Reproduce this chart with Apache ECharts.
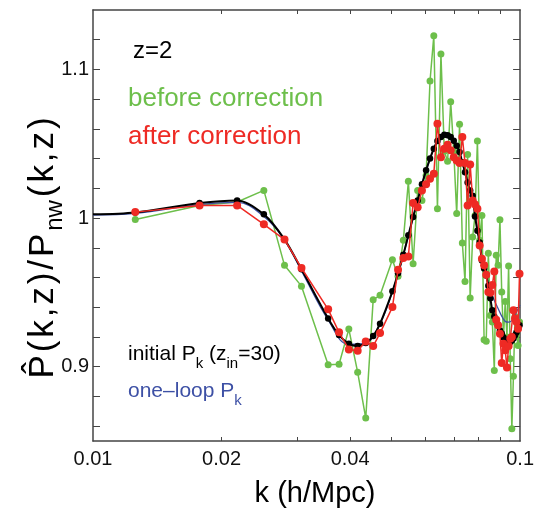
<!DOCTYPE html>
<html>
<head>
<meta charset="utf-8">
<script src="https://cdn.jsdelivr.net/npm/echarts@6/dist/echarts.min.js"></script>
<style>
  html, body { margin: 0; padding: 0; background: #fff; }
  #chart { width: 537px; height: 510px; }
</style>
</head>
<body>
<div id="chart"></div>
<script>
// k bins (h/Mpc) shared by the measured spectra
var kBins = [
  0.01256, 0.01776, 0.02175, 0.02512, 0.02808, 0.03077, 0.03553, 0.03768, 0.03972,
  0.04166, 0.04351, 0.04529, 0.04700,
  0.05024, 0.05179, 0.05329, 0.05475, 0.05617, 0.05756, 0.05891, 0.06024, 0.06153,
  0.06280, 0.06404, 0.06526, 0.06646, 0.06764, 0.06879, 0.06993, 0.07105, 0.07215,
  0.07324, 0.07431, 0.07536, 0.07640, 0.07743, 0.07844, 0.07944, 0.08042, 0.08140,
  0.08236, 0.08331, 0.08426, 0.08518, 0.08610, 0.08702, 0.08792, 0.08881, 0.08970,
  0.09057, 0.09144, 0.09230, 0.09315, 0.09399, 0.09483, 0.09565, 0.09647, 0.09729,
  0.09810, 0.09890, 0.09969
];

// before correction (green)
var beforeCorr = [
  0.9991, 1.0085, 1.0108, 1.0186, 0.9682, 0.9542, 0.9013, 0.9016, 0.9253,
  0.8962, 0.8654, 0.9451, 0.9480,
  0.9720, 0.9608, 0.9850, 1.0247, 0.9693, 1.0185, 1.0119, 1.0287, 1.0922,
  1.1227, 1.0062, 1.1104, 1.0450, 1.0382, 1.0782, 1.0450, 1.0030, 1.0631,
  0.9832, 0.9574, 1.0427, 0.9462, 0.9872, 1.0018, 1.0518, 0.9850, 1.0018,
  0.9182, 0.9172, 0.9764, 0.9345, 0.9300, 0.8975, 0.9749, 0.9682, 0.9989,
  0.9502, 0.9199, 0.9439, 0.9200, 0.9677, 0.9054, 0.8583, 0.8935, 0.9338,
  0.9223, 0.9143, 0.9300
];

// after correction (red)
var afterCorr = [
  1.0040, 1.0085, 1.0085, 0.9958, 0.9855, 0.9664, 0.9386, 0.9231, 0.9116,
  0.9108, 0.9170, 0.9139, 0.9226,
  0.9401, 0.9653, 0.9731, 0.9742, 1.0101, 1.0072, 1.0186, 1.0227, 1.0265,
  1.0299, 1.0635, 1.0410, 1.0467, 1.0494, 1.0456, 1.0409, 1.0388, 1.0370,
  1.0545, 1.0370, 1.0085, 1.0361, 1.0119, 1.0092, 1.0063, 0.9816, 0.9727,
  0.9682, 0.9619, 0.9502, 0.9498, 0.9550, 0.9641, 0.9316, 0.9278, 0.9222,
  0.9024, 0.9155, 0.9110, 0.8995, 0.9140, 0.9188, 0.9199, 0.9379, 0.9325,
  0.9300, 0.9256, 0.9626
];

// initial P_k (z_in=30), black curve with dots; first entry is k=0.01 edge
var initialK = [0.01].concat(kBins);
var initialPk = [
  1.0025,
  1.0038, 1.0101, 1.0119, 1.0025, 0.9857, 0.9655, 0.9325, 0.9213, 0.9155,
  0.9139, 0.9159, 0.9206, 0.9289,
  0.9507, 0.9628, 0.9754, 0.9884, 1.0007, 1.0119, 1.0227, 1.0321, 1.0400,
  1.0467, 1.0518, 1.0545, 1.0560, 1.0557, 1.0546, 1.0520, 1.0486, 1.0444,
  1.0375, 1.0308, 1.0240, 1.0186, 1.0150, 1.0010, 0.9915, 0.9836, 0.9715,
  0.9661, 0.9614, 0.9545, 0.9460, 0.9379, 0.9338, 0.9311, 0.9278, 0.9244,
  0.9224, 0.9197, 0.9177, 0.9167, 0.9164, 0.9166, 0.9177, 0.9190, 0.9211,
  0.9231, 0.9258, 0.9278
];

// one-loop P_k (blue line)
var oneLoopK = [
  0.01, 0.01256, 0.01776, 0.02175, 0.02512, 0.02808, 0.03077, 0.03553, 0.03972,
  0.04351, 0.04700, 0.05024, 0.05329, 0.05617, 0.05891, 0.06153, 0.06404, 0.06646,
  0.06879, 0.07105, 0.07324, 0.07536, 0.07743, 0.07944, 0.08140, 0.08331, 0.08518,
  0.08702, 0.08881, 0.09057, 0.09230, 0.09399, 0.09565, 0.09729, 0.09890, 0.1
];
var oneLoopPk = [
  1.0020, 1.0032, 1.0090, 1.0105, 1.0010, 0.9850, 0.9645, 0.9315, 0.9150,
  0.9160, 0.9290, 0.9505, 0.9752, 1.0005, 1.0225, 1.0398, 1.0515, 1.0556,
  1.0545, 1.0485, 1.0373, 1.0240, 1.0120, 0.9935, 0.9740, 0.9615, 0.9513,
  0.9446, 0.9392, 0.9340, 0.9305, 0.9300, 0.9310, 0.9345, 0.9390, 0.9415
];

// axis ticks and labels
var xTickValues = [0.02, 0.03, 0.04, 0.05, 0.06, 0.07, 0.08, 0.09];
var xLabelValues = [0.01, 0.02, 0.04, 0.1];
var yTickValues = [0.86, 0.88, 0.9, 0.92, 0.94, 0.96, 0.98, 1.0, 1.02, 1.04, 1.06, 1.08, 1.1, 1.12];
var yLabelValues = [0.9, 1.0, 1.1];

function pairs(xs, ys) {
  return xs.map(function(x, i) { return [x, ys[i]]; });
}

var font = 'Liberation Sans, Arial, sans-serif';
var green = '#6dbf4b';
var red = '#ee2a24';
var blue = '#3d50a5';
var frame = '#444';
var hair = '\u200a';

function fmt(v) { return String(+(+v).toPrecision(3)); }
// spread letters slightly, the original typesetting is looser than Liberation Sans
function spaced(s) { return s.split('').join(hair); }

function xAxisDef(pos, showLabel) {
  return {
    type: 'log', logBase: 10, min: 0.01, max: 0.1, position: pos,
    axisLine: { show: true, onZero: false, lineStyle: { color: frame, width: 1.5 } },
    axisTick: { show: true, inside: true, length: 4, customValues: xTickValues,
                lineStyle: { color: frame, width: 1 } },
    axisLabel: { show: showLabel, customValues: xLabelValues, formatter: fmt,
                 fontSize: 20, fontFamily: font, color: '#111', margin: 8 },
    splitLine: { show: false }, minorTick: { show: false }
  };
}

function yAxisDef(pos, showLabel) {
  return {
    type: 'value', min: 0.85, max: 1.14, position: pos,
    axisLine: { show: true, onZero: false, lineStyle: { color: frame, width: 1.5 } },
    axisTick: { show: true, inside: true, length: 7, customValues: yTickValues,
                lineStyle: { color: frame, width: 1 } },
    axisLabel: { show: showLabel, customValues: yLabelValues, formatter: fmt,
                 fontSize: 20, fontFamily: font, color: '#111', margin: 4 },
    splitLine: { show: false }
  };
}

var chart = echarts.init(document.getElementById('chart'), null, { renderer: 'canvas' });
chart.setOption({
  animation: false,
  backgroundColor: '#fff',
  grid: { left: 93, right: 12, top: 10, bottom: 69 },
  xAxis: [xAxisDef('bottom', true), xAxisDef('top', false)],
  yAxis: [yAxisDef('left', true), yAxisDef('right', false)],
  series: [
    {
      name: 'before correction', type: 'line', data: pairs(kBins, beforeCorr),
      symbol: 'circle', symbolSize: 7, showSymbol: true,
      lineStyle: { color: green, width: 1.5 }, itemStyle: { color: green }, z: 2
    },
    {
      name: 'one-loop', type: 'line', data: pairs(oneLoopK, oneLoopPk),
      smooth: 0.4, showSymbol: false, symbol: 'none',
      lineStyle: { color: blue, width: 1.3 }, z: 3
    },
    {
      name: 'initial', type: 'line', data: pairs(initialK, initialPk),
      smooth: 0.3, symbol: 'circle',
      symbolSize: function(v, p) { return p.dataIndex === 0 ? 0 : 6.5; },
      lineStyle: { color: '#000', width: 2 }, itemStyle: { color: '#000' }, z: 4
    },
    {
      name: 'after correction', type: 'line', data: pairs(kBins, afterCorr),
      symbol: 'circle', symbolSize: 8,
      lineStyle: { color: red, width: 1.5 }, itemStyle: { color: red }, z: 5
    }
  ],
  graphic: [
    { type: 'text', x: 133, y: 51.5, z: 10,
      style: { text: 'z=2', fontSize: 24, fontFamily: font, fill: '#000', verticalAlign: 'middle' } },
    { type: 'text', x: 128, y: 99.3, z: 10,
      style: { text: 'before correction', fontSize: 26, fontFamily: font, fill: green, verticalAlign: 'middle' } },
    { type: 'text', x: 128, y: 136.7, z: 10,
      style: { text: 'after correction', fontSize: 26, fontFamily: font, fill: red, verticalAlign: 'middle' } },
    { type: 'text', x: 128, y: 354, z: 10,
      style: {
        text: '{n|initial P}{s|k}{n| (z}{s|in}{n|=30)}', fontFamily: font, fill: '#000',
        verticalAlign: 'middle',
        rich: {
          n: { fontSize: 21, fontFamily: font, lineHeight: 34, fill: '#000' },
          s: { fontSize: 15, fontFamily: font, lineHeight: 32, verticalAlign: 'bottom', fill: '#000' }
        }
      } },
    { type: 'text', x: 128, y: 391, z: 10,
      style: {
        text: '{n|one\u2013loop P}{s|k}', fontFamily: font, fill: blue,
        verticalAlign: 'middle',
        rich: {
          n: { fontSize: 21, fontFamily: font, lineHeight: 34, fill: blue },
          s: { fontSize: 15, fontFamily: font, lineHeight: 32, verticalAlign: 'bottom', fill: blue }
        }
      } },
    { type: 'text', x: 315, y: 494, z: 10,
      style: { text: 'k (h/Mpc)', fontSize: 29, fontFamily: font, fill: '#000',
               align: 'center', verticalAlign: 'middle' } },
    { type: 'text', x: 43, y: 248, rotation: Math.PI / 2, z: 10,
      style: {
        text: '{n|' + spaced('P\u0302(k,z)/P').replace(hair + '\u0302', '\u0302') + hair + '}{s|nw}{n|' + hair + spaced('(k,z)') + '}',
        fontFamily: font, fill: '#000',
        align: 'center', verticalAlign: 'middle',
        rich: {
          n: { fontSize: 35, fontFamily: font, lineHeight: 48, fill: '#000' },
          s: { fontSize: 24, fontFamily: font, lineHeight: 34, verticalAlign: 'bottom', fill: '#000' }
        }
      } }
  ]
});
</script>
</body>
</html>
